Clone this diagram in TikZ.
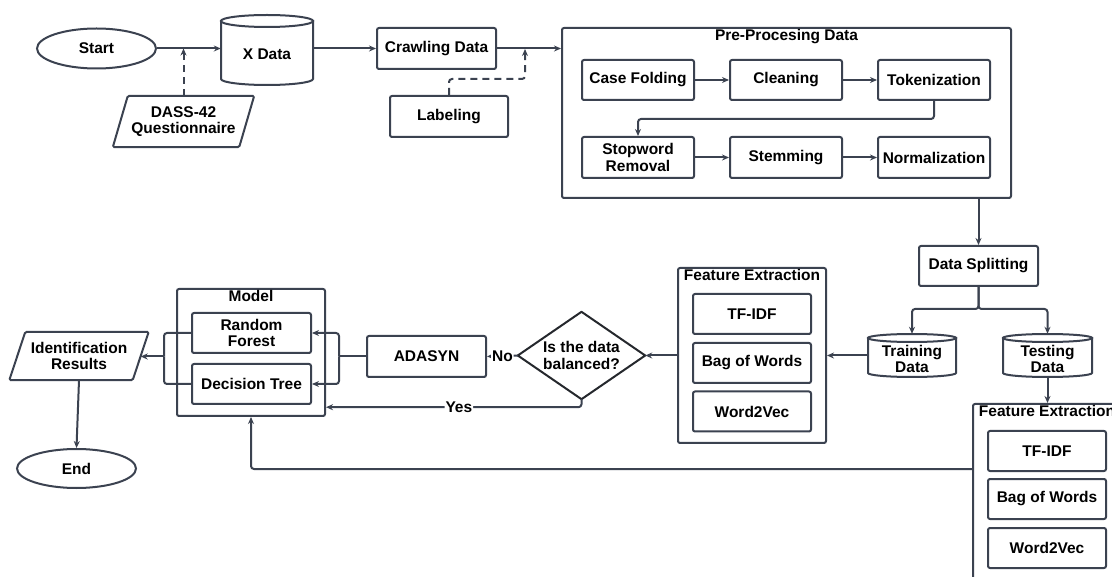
\documentclass[tikz,border=0pt]{standalone}
\usepackage{fontspec}
\setmainfont{Liberation Sans}
\usetikzlibrary{shapes.geometric,arrows.meta,calc}
\definecolor{lc}{HTML}{3B4250}
\definecolor{dk}{HTML}{25282D}
\begin{document}
\begin{tikzpicture}[x=1pt,y=-1pt,
  txt/.style={font=\bfseries\fontsize{15.5}{16.5}\selectfont, text=black, align=center},
  pbox/.style={txt, draw=lc, line width=2pt, fill=white, rounded corners=2pt, rectangle, inner sep=1pt, minimum width=119pt, minimum height=41pt},
  sbox/.style={pbox, minimum width=112pt, minimum height=40pt},
  fbox/.style={pbox, minimum width=118pt, minimum height=40pt},
  group/.style={draw=lc, line width=2pt, rounded corners=2pt, rectangle, inner sep=0pt},
  ghost/.style={txt, rectangle, inner sep=0pt},
  oval/.style={txt, ellipse, draw=lc, line width=2pt, fill=white, inner sep=0pt, minimum width=119pt, minimum height=40pt},
  conn/.style={draw=lc, line width=2pt, rounded corners=3pt},
  arr/.style={conn, -{Stealth[length=7pt,width=6pt]}},
  dashline/.style={dash pattern=on 7pt off 5pt},
  ttl/.style={txt, anchor=north, inner sep=0pt}
]
\useasboundingbox (0,0) rectangle (1112,577);
\clip (0,0) rectangle (1112,577);

% ---------- top row ----------
\node[oval] (start) at (96.5,48.5) {Start};

\node[ghost, minimum width=92pt, minimum height=70pt] (xdata) at (267,50) {};
\draw[draw=lc, line width=2pt, fill=white] (221,21) -- (221,79) arc[start angle=180, end angle=360, x radius=46pt, y radius=6pt] -- (313,21) -- cycle;
\draw[draw=lc, line width=2pt, fill=white] (267,21) ellipse[x radius=46pt, y radius=6pt];
\node[txt] at (267,54) {X Data};

\node[ghost, minimum width=126pt, minimum height=51pt] (dass) at (183.5,121.5) {};
\draw[draw=lc, line width=2pt, fill=white, rounded corners=1.5pt]
  ([xshift=7.5pt]dass.north west) -- ([xshift=7.5pt]dass.north east) -- ([xshift=-7.5pt]dass.south east) -- ([xshift=-7.5pt]dass.south west) -- cycle;
\node[txt] at (dass.center) {DASS-42\\Questionnaire};

\node[pbox] (crawl) at (436.5,48.5) {Crawling Data};
\node[pbox, minimum width=118pt] (label) at (449,116.5) {Labeling};

% ---------- pre-processing ----------
\node[group, minimum width=449pt, minimum height=170pt] (pre) at (786.5,113) {};
\node[ttl] at ([yshift=-2pt]pre.north) {Pre-Procesing Data};
\node[sbox] (cf) at (638,80) {Case Folding};
\node[sbox] (cl) at (786,80) {Cleaning};
\node[sbox] (tok) at (934,80) {Tokenization};
\node[sbox, minimum height=41pt] (stop) at (638,157.5) {Stopword\\Removal};
\node[sbox, minimum height=41pt] (stem) at (786,157.5) {Stemming};
\node[sbox, minimum height=41pt] (norm) at (934,157.5) {Normalization};

% ---------- data splitting ----------
\node[pbox, minimum height=40pt] (ds) at (978.5,266) {Data Splitting};

\node[ghost, minimum width=88pt, minimum height=43pt] (train) at (912,355.5) {};
\draw[draw=lc, line width=2pt, fill=white] (868,338) -- (868,373) arc[start angle=180, end angle=360, x radius=44pt, y radius=4pt] -- (956,338) -- cycle;
\draw[draw=lc, line width=2pt, fill=white] (912,338) ellipse[x radius=44pt, y radius=4pt];
\node[txt] at (912,359) {Training\\Data};

\node[ghost, minimum width=89pt, minimum height=43pt] (test) at (1047.5,355.5) {};
\draw[draw=lc, line width=2pt, fill=white] (1003,338) -- (1003,373) arc[start angle=180, end angle=360, x radius=44.5pt, y radius=4pt] -- (1092,338) -- cycle;
\draw[draw=lc, line width=2pt, fill=white] (1047.5,338) ellipse[x radius=44.5pt, y radius=4pt];
\node[txt] at (1047.5,359) {Testing\\Data};

% ---------- feature extraction 1 ----------
\node[group, minimum width=148pt, minimum height=175pt] (fe1) at (752,355.5) {};
\node[ttl] at ([yshift=-2pt]fe1.north) {Feature Extraction};
\node[fbox] (tf1) at (752,314) {TF-IDF};
\node[fbox] (bow1) at (752,363) {Bag of Words};
\node[fbox] (wv1) at (752,411.5) {Word2Vec};

% ---------- feature extraction 2 ----------
\node[group, minimum width=148pt, minimum height=175pt] (fe2) at (1047,491.5) {};
\node[ttl] at ([yshift=-2pt]fe2.north) {Feature Extraction};
\node[fbox] (tf2) at (1047,451) {TF-IDF};
\node[fbox] (bow2) at (1047,499) {Bag of Words};
\node[fbox] (wv2) at (1047,548) {Word2Vec};

% ---------- decision ----------
\node[ghost, minimum width=127pt, minimum height=87pt] (dia) at (581.5,355.5) {};
\draw[draw=dk, line width=2pt, fill=white, line join=round] (dia.north) -- (dia.east) -- (dia.south) -- (dia.west) -- cycle;
\node[txt] at (dia.center) {Is the data\\balanced?};

\node[pbox] (ada) at (426.5,356.5) {ADASYN};

% ---------- model ----------
\node[group, minimum width=148pt, minimum height=127pt] (model) at (251,352.5) {};
\node[ttl] at ([yshift=-2pt]model.north) {Model};
\node[pbox, minimum height=40pt] (rf) at (251.5,333) {Random\\Forest};
\node[pbox, minimum height=40pt] (dt) at (251.5,384) {Decision Tree};

% ---------- results ----------
\node[ghost, minimum width=123pt, minimum height=48pt] (idr) at (79,356) {};
\draw[draw=lc, line width=2pt, fill=white, rounded corners=1.5pt]
  ([xshift=8pt]idr.north west) -- ([xshift=8pt]idr.north east) -- ([xshift=-8pt]idr.south east) -- ([xshift=-8pt]idr.south west) -- cycle;
\node[txt] at (idr.center) {Identification\\Results};
\node[oval, minimum height=39pt] (end) at (76.5,468.5) {End};

% ---------- connectors ----------
\draw[arr] (start.east) -- (start.east -| xdata.west);
\draw[arr, dashline] (dass.north) -- (dass.north |- start.east);
\draw[arr] (crawl.west -| xdata.east) -- (crawl.west);
\draw[arr] (crawl.east) -- (crawl.east -| pre.west);
\coordinate (lbj) at (525,49);
\draw[arr, dashline] (label.north) -- ++(0,-16) -| (lbj);

\draw[arr] (cf) -- (cl);
\draw[arr] (cl) -- (tok);
\draw[arr] (stop) -- (stem);
\draw[arr] (stem) -- (norm);
\draw[arr] (tok.south) -- ++(0,18) -| (stop.north);

\draw[arr] (ds.north |- pre.south) -- (ds.north);
\draw[arr] (ds.south) -- ++(0,22) -| (train.north);
\draw[arr] (ds.south) -- ++(0,22) -| (test.north);
\draw[arr] (train.west) -- (train.west -| fe1.east);
\draw[arr] (test.south) -- (test.south |- fe2.north);

\draw[arr] (fe1.west) -- (dia.east);
\draw[arr] (dia.west) -- (ada.east) node[midway, fill=white, inner sep=1pt, txt] {No};
\draw[arr] (dia.south) -- ++(0,8) coordinate (yb) -- (yb -| model.east) node[pos=0.48, fill=white, inner sep=1pt, txt] {Yes};

\coordinate (aj) at (339,356.5);
\draw[conn] (ada.west) -- (aj);
\draw[arr] (aj) |- (rf.east);
\draw[arr] (aj) |- (dt.east);

\coordinate (mj) at (164,356.5);
\draw[conn] (rf.west) -| (mj);
\draw[conn] (dt.west) -| (mj);
\draw[arr] (mj) -- (mj -| idr.east);
\draw[arr] (idr.south) -- (end.north);

\draw[arr] ([yshift=22.5pt]fe2.west) -| (model.south);
\end{tikzpicture}
\end{document}
